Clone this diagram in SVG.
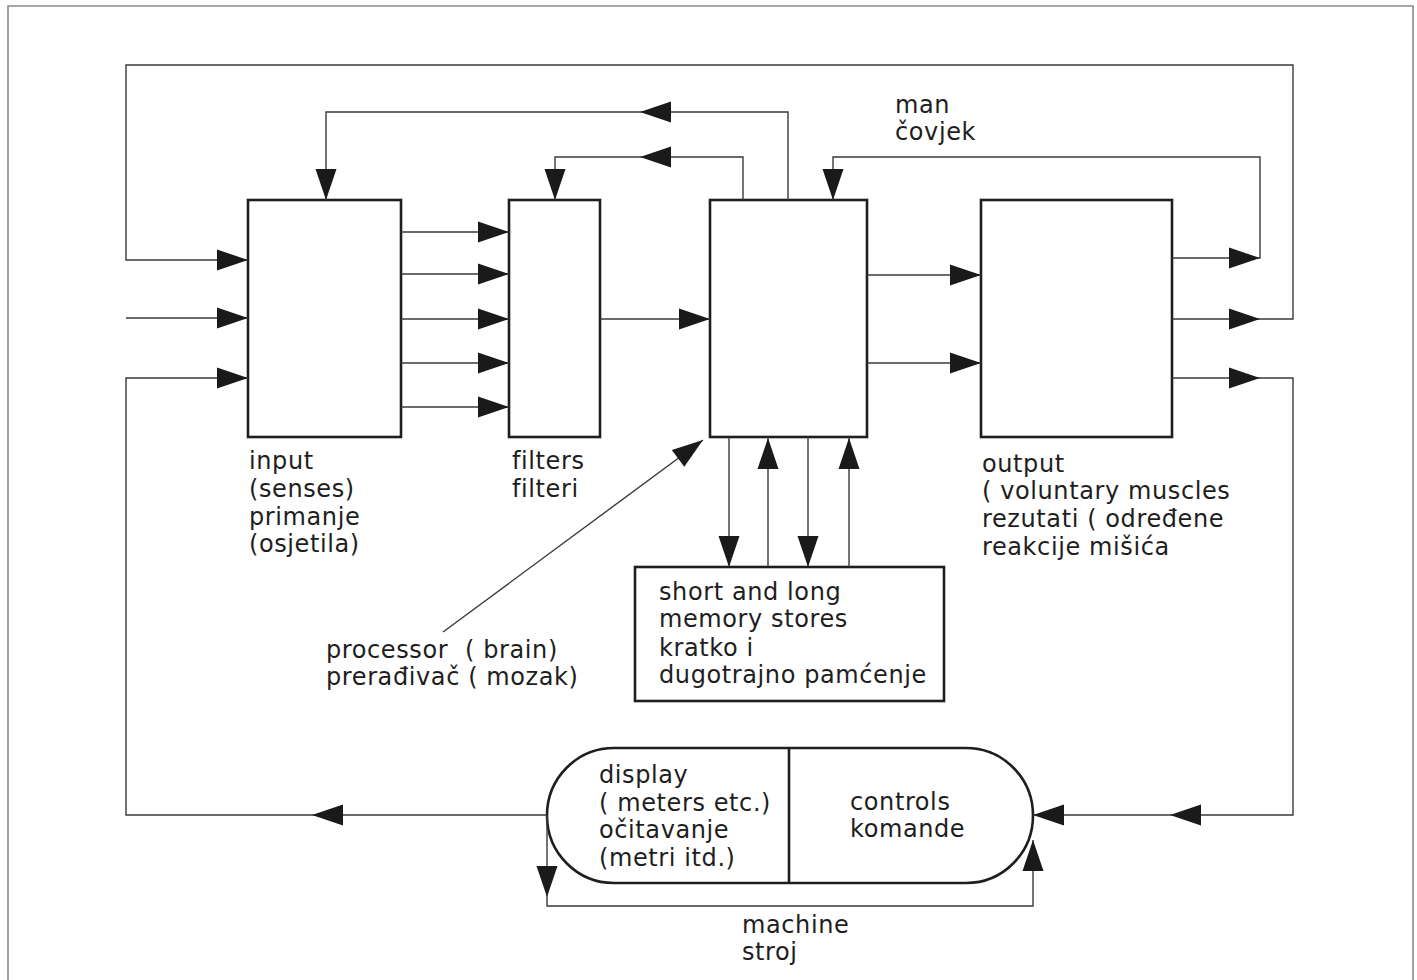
<svg xmlns="http://www.w3.org/2000/svg" xmlns:xlink="http://www.w3.org/1999/xlink" width="1417" height="980" viewBox="0 0 1417 980">
<style>
.box{fill:#fff;stroke:#1e1e1e;stroke-width:2.6}
.ln{fill:none;stroke:#3a3a3a;stroke-width:1.4}
.frame{fill:none;stroke:#8a8a8a;stroke-width:1.6}
.ah{fill:#1a1a1a}
text{font-family:"DejaVu Sans","Liberation Sans",sans-serif;font-size:24px;fill:#1e1e1e;letter-spacing:0.6px}
</style>
<defs>
<path id="ah" class="ah" d="M0,0 L-31,-10.5 L-31,10.5 Z"/>
</defs>
<rect width="1417" height="980" fill="#fff"/>
<path class="frame" d="M8,980 V6 H1413 V980"/>

<g id="input">
<rect class="box" x="248" y="200" width="153" height="237"/>
<text x="249" y="469">input</text>
<text x="249" y="497">(senses)</text>
<text x="249" y="525">primanje</text>
<text x="249" y="552">(osjetila)</text>
</g>
<g id="filters">
<rect class="box" x="509" y="200" width="91" height="237"/>
<text x="512" y="469">filters</text>
<text x="512" y="497">filteri</text>
</g>
<g id="processor">
<rect class="box" x="710" y="200" width="157" height="237"/>
<text x="326" y="658">processor <tspan x="465">( brain)</tspan></text>
<text x="326" y="685">prerađivač ( mozak)</text>
</g>
<g id="output">
<rect class="box" x="981" y="200" width="191" height="237"/>
<text x="982" y="472">output</text>
<text x="982" y="499">( voluntary muscles</text>
<text x="982" y="527">rezutati ( određene</text>
<text x="982" y="555">reakcije mišića</text>
</g>
<g id="man">
<text x="895" y="113">man</text>
<text x="895" y="140">čovjek</text>
</g>
<g id="memory">
<rect class="box" x="635" y="567" width="309" height="134"/>
<text x="659" y="600">short and long</text>
<text x="659" y="627">memory stores</text>
<text x="659" y="656">kratko i</text>
<text x="659" y="683">dugotrajno pamćenje</text>
</g>
<g id="machine">
<path class="box" d="M614,748 H966 A67,67.5 0 0 1 966,883 H614 A67,67.5 0 0 1 614,748 Z"/>
<line x1="789" y1="748" x2="789" y2="883" stroke="#1e1e1e" stroke-width="2.6"/>
<text x="599" y="783">display</text>
<text x="599" y="811">( meters etc.)</text>
<text x="599" y="838">očitavanje</text>
<text x="599" y="866">(metri itd.)</text>
<text x="850" y="810">controls</text>
<text x="850" y="837">komande</text>
<text x="742" y="933">machine</text>
<text x="742" y="960">stroj</text>
</g>

<g id="connectors">
<path class="ln" d="M1172,319 H1293 V65 H126 V260 H248"/>
<use xlink:href="#ah" transform="translate(1260,319)"/>
<use xlink:href="#ah" transform="translate(248,260)"/>
<path class="ln" d="M126,318 H248"/>
<use xlink:href="#ah" transform="translate(248,318)"/>
<path class="ln" d="M547,815 H126 V378 H248"/>
<use xlink:href="#ah" transform="translate(312,815) rotate(180)"/>
<use xlink:href="#ah" transform="translate(248,378)"/>
<path class="ln" d="M1172,378 H1293 V815 H1033"/>
<use xlink:href="#ah" transform="translate(1260,378)"/>
<use xlink:href="#ah" transform="translate(1170,815) rotate(180)"/>
<use xlink:href="#ah" transform="translate(1033,815) rotate(180)"/>
<path class="ln" d="M1172,258 H1260 V157 H833 V200"/>
<use xlink:href="#ah" transform="translate(1260,258)"/>
<use xlink:href="#ah" transform="translate(833,200) rotate(90)"/>
<path class="ln" d="M788,200 V112 H326 V200"/>
<use xlink:href="#ah" transform="translate(640,112) rotate(180)"/>
<use xlink:href="#ah" transform="translate(326,200) rotate(90)"/>
<path class="ln" d="M743,200 V157 H555 V200"/>
<use xlink:href="#ah" transform="translate(640,157) rotate(180)"/>
<use xlink:href="#ah" transform="translate(555,200) rotate(90)"/>
<path class="ln" d="M401,232 H509 M401,274 H509 M401,319 H509 M401,363 H509 M401,407 H509"/>
<use xlink:href="#ah" transform="translate(509,232)"/>
<use xlink:href="#ah" transform="translate(509,274)"/>
<use xlink:href="#ah" transform="translate(509,319)"/>
<use xlink:href="#ah" transform="translate(509,363)"/>
<use xlink:href="#ah" transform="translate(509,407)"/>
<path class="ln" d="M600,319 H710"/>
<use xlink:href="#ah" transform="translate(710,319)"/>
<path class="ln" d="M867,275 H981 M867,363 H981"/>
<use xlink:href="#ah" transform="translate(981,275)"/>
<use xlink:href="#ah" transform="translate(981,363)"/>
<path class="ln" d="M729,437 V567 M768,437 V567 M808,437 V567 M849,437 V567"/>
<use xlink:href="#ah" transform="translate(729,567) rotate(90)"/>
<use xlink:href="#ah" transform="translate(768,438) rotate(-90)"/>
<use xlink:href="#ah" transform="translate(808,567) rotate(90)"/>
<use xlink:href="#ah" transform="translate(849,438) rotate(-90)"/>
<path class="ln" d="M443,632 L703,440"/>
<use xlink:href="#ah" transform="translate(703,440) rotate(-36.4)"/>
<path class="ln" d="M547,815 V906 H1033 V840"/>
<use xlink:href="#ah" transform="translate(547,897) rotate(90)"/>
<use xlink:href="#ah" transform="translate(1033,840) rotate(-90)"/>
</g>
</svg>
